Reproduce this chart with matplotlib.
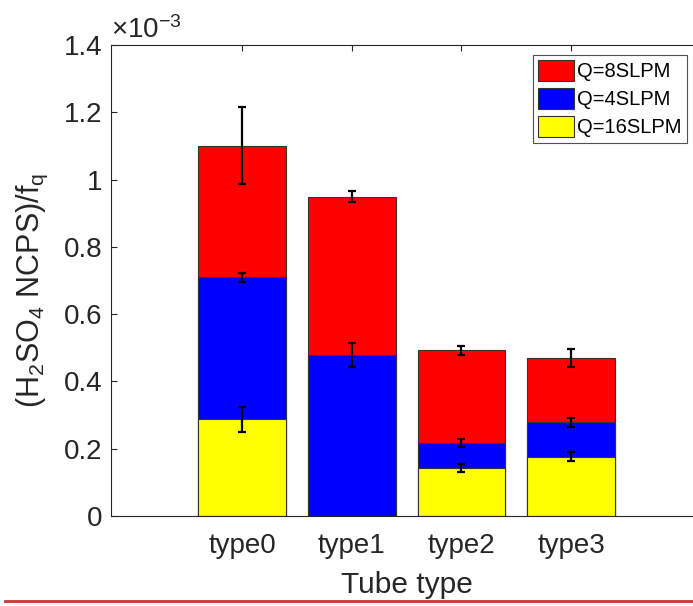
import matplotlib
matplotlib.use("Agg")
import matplotlib.pyplot as plt
import numpy as np
from matplotlib.lines import Line2D

plt.rcParams['font.family'] = ['Liberation Sans', 'DejaVu Sans']
plt.rcParams['mathtext.fontset'] = 'custom'
plt.rcParams['mathtext.rm'] = 'Liberation Sans'
plt.rcParams['mathtext.it'] = 'Liberation Sans'
plt.rcParams['mathtext.default'] = 'regular'

categories = ['type0', 'type1', 'type2', 'type3']
series_names = ['Q=8SLPM', 'Q=4SLPM', 'Q=16SLPM']
q8 = [1.101e-3, 0.949e-3, 0.492e-3, 0.469e-3]
q8_err = [0.115e-3, 0.016e-3, 0.013e-3, 0.026e-3]
q4 = [0.710e-3, 0.479e-3, 0.216e-3, 0.278e-3]
q4_err = [0.013e-3, 0.036e-3, 0.012e-3, 0.013e-3]
q16 = [0.288e-3, 0.0, 0.143e-3, 0.176e-3]
q16_err = [0.037e-3, np.nan, 0.012e-3, 0.013e-3]
colors = ['#ff0000', '#0000ff', '#ffff00']
yticks = [0, 0.2e-3, 0.4e-3, 0.6e-3, 0.8e-3, 1.0e-3, 1.2e-3, 1.4e-3]

W, H = 693, 606
fig = plt.figure(figsize=(W / 100, H / 100), dpi=100)
x = np.arange(1, len(categories) + 1)
xlim = (-0.195, 5.2)
px_per_unit = 109.7
ax_left, ax_bottom, ax_top = 111, 516, 45
ax_w_px = (xlim[1] - xlim[0]) * px_per_unit
ax = fig.add_axes([ax_left / W, (H - ax_bottom) / H, ax_w_px / W, (ax_bottom - ax_top) / H])

txt = '#262626'
for vals, errs, col, name in zip([q8, q4, q16], [q8_err, q4_err, q16_err], colors, series_names):
    ax.bar(x, vals, width=0.8, color=col, edgecolor='#333333', linewidth=0.8, label=name, zorder=2)
    ax.errorbar(x, vals, yerr=errs, fmt='none', ecolor='black', elinewidth=1.6,
                capsize=2.8, capthick=1.6, zorder=3)

ax.set_xlim(*xlim)
ax.set_ylim(0, 1.4e-3)
ax.set_xticks(x)
ax.set_xticklabels(categories)
ax.set_yticks(yticks)
ax.set_yticklabels([f"{v * 1e3:g}" for v in yticks])
ax.tick_params(axis='both', direction='in', colors='#262626', labelcolor=txt,
               labelsize=20, length=4, width=0.8, top=True, right=False)
ax.tick_params(axis='x', pad=12)
ax.tick_params(axis='y', pad=6)
ax.spines['right'].set_visible(False)
for s in ['left', 'bottom', 'top']:
    ax.spines[s].set_color('#262626')
    ax.spines[s].set_linewidth(0.8)

ax.set_xlabel('Tube type', fontsize=21.5, color=txt, labelpad=9)
ax.set_ylabel('(H$_2$SO$_4$ NCPS)/f$_q$', fontsize=22, color=txt)
ax.yaxis.set_label_coords(-0.103, 0.48)
ax.text(0.0, 1.003, r'$\times$10$^{-3}$', transform=ax.transAxes, fontsize=20,
        color=txt, ha='left', va='bottom')

leg = ax.legend(loc='upper left', bbox_to_anchor=((533 - ax_left) / ax_w_px,
                (ax_bottom - 55) / (ax_bottom - ax_top)),
                fontsize=14.5, frameon=True, fancybox=False, edgecolor='#262626',
                handlelength=1.8, handleheight=1.2, handletextpad=0.15, labelspacing=0.35,
                borderpad=0.25, borderaxespad=0)
leg.get_frame().set_linewidth(0.8)
for t in leg.get_texts():
    t.set_color('black')

fig.add_artist(Line2D([5 / W, 1.0], [1 - 601 / H, 1 - 601 / H], color='#d03030',
                      linewidth=2, transform=fig.transFigure))

fig.savefig('out.png', dpi=100)
